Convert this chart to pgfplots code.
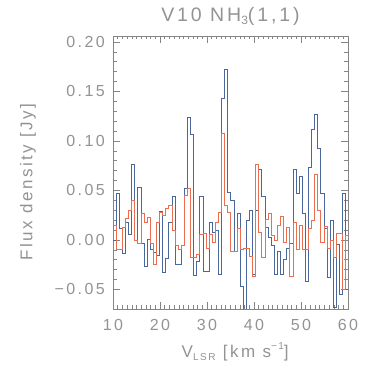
\documentclass[border=0pt]{standalone}
\usepackage{fontspec}
\setmainfont{Liberation Sans}[LetterSpace=15]
\usepackage{pgfplots}
\pgfplotsset{compat=1.18}
\definecolor{txtgray}{HTML}{939393}
\definecolor{axgray}{HTML}{858585}
\definecolor{specblue}{HTML}{4A679C}
\definecolor{specred}{HTML}{EB6E50}

\begin{document}
\begin{tikzpicture}
\useasboundingbox (0,0) rectangle (382pt,382pt);
\begin{axis}[
    at={(113pt,73pt)}, anchor=south west,
    scale only axis, width=235pt, height=273pt,
    xmin=10, xmax=60, ymin=-0.0697, ymax=0.206,
    axis line style={axgray, line width=0.8pt},
    tick style={axgray, line width=0.6pt},
    tick align=inside,
    major tick length=7pt, minor tick length=3.5pt,
    xtick={10,20,...,60}, xticklabels={10,20,30,40,50,60},
    minor x tick num=9,
    ytick={-0.05,0,0.05,0.10,0.15,0.20},
    yticklabels={−0.05,0.00,0.05,0.10,0.15,0.20},
    minor y tick num=4,
    ticklabel style={font=\fontsize{16}{16}\selectfont, text=txtgray},
    xticklabel style={inner sep=0pt, anchor=north, yshift=-10pt},
    yticklabel style={inner sep=0pt, anchor=east, xshift=-8pt},
    title={V10 NH\raisebox{-0.3ex}{\fontsize{12}{12}\selectfont 3}(1,1)},
    title style={at={(axis description cs:0.5,1.05)}, anchor=center,
                 font=\fontsize{19.5}{19.5}\selectfont, text=txtgray},
    xlabel={V\raisebox{-0.35ex}{\fontsize{10}{10}\selectfont LSR} [km s\raisebox{0.9ex}{\fontsize{10}{10}\selectfont −1}]},
    xlabel style={at={(axis description cs:0.52,-0.157)}, anchor=center,
                  font=\fontsize{17}{17}\selectfont, text=txtgray},
    ylabel={Flux density [Jy]},
    ylabel style={at={(axis description cs:-0.362,0.465)}, anchor=center,
                  font=\fontsize{17}{17}\selectfont, text=txtgray},
]
% channel left edges, 0.66 km/s wide
\addplot[const plot mark left, specblue, line width=0.8pt] coordinates {
(10.00,0.000) (10.66,0.047) (11.32,0.012) (11.98,-0.014) (12.64,0.018)
(13.30,0.006) (13.96,0.076) (14.62,0.000) (15.28,0.053) (15.94,-0.003)
(16.60,-0.027) (17.26,0.001) (17.92,-0.010) (18.58,-0.013) (19.24,-0.016)
(19.90,0.029) (20.56,-0.033) (21.22,-0.019) (21.88,0.018) (22.54,0.044)
(23.20,-0.025) (23.86,-0.025) (24.52,-0.005) (25.18,0.052) (25.84,0.124)
(26.50,0.107) (27.16,-0.036) (27.82,-0.022) (28.48,0.044) (29.14,-0.032)
(29.80,-0.032) (30.46,0.018) (31.12,0.008) (31.78,0.010) (32.44,-0.035)
(33.10,0.143) (33.76,0.172) (34.42,0.048) (35.08,0.040) (35.74,-0.012)
(36.40,0.027) (37.06,-0.047) (37.72,-0.090) (38.38,0.020) (39.04,0.030)
(39.70,-0.035) (40.36,0.030) (41.02,0.071) (41.68,0.044) (42.34,0.013)
(43.00,0.003) (43.66,-0.005) (44.32,-0.035) (44.98,-0.012) (45.64,-0.035)
(46.30,-0.020) (46.96,-0.008) (47.62,-0.003) (48.28,0.071) (48.94,0.047)
(49.60,0.064) (50.26,0.027) (50.92,-0.042) (51.58,0.073) (52.24,0.112)
(52.90,0.127) (53.56,0.092) (54.22,0.047) (54.88,0.012) (55.54,-0.038)
(56.20,0.020) (56.86,-0.068) (57.52,-0.004) (58.18,-0.055) (58.84,0.047)
(59.50,-0.050) (60.16,-0.050)
};
\addplot[const plot mark left, specred, line width=0.8pt] coordinates {
(10.00,0.015) (10.66,-0.010) (11.32,-0.010) (11.98,0.013) (12.64,0.022)
(13.30,0.030) (13.96,0.040) (14.62,0.000) (15.28,-0.003) (15.94,0.027)
(16.60,0.018) (17.26,0.023) (17.92,-0.003) (18.58,-0.025) (19.24,0.018)
(19.90,0.028) (20.56,0.025) (21.22,0.032) (21.88,0.035) (22.54,0.010)
(23.20,-0.005) (23.86,-0.010) (24.52,-0.005) (25.18,0.045) (25.84,0.052)
(26.50,-0.018) (27.16,-0.018) (27.82,-0.015) (28.48,0.006) (29.14,0.007)
(29.80,-0.008) (30.46,0.006) (31.12,-0.002) (31.78,0.018) (32.44,0.028)
(33.10,0.108) (33.76,0.035) (34.42,0.028) (35.08,-0.012) (35.74,-0.012)
(36.40,0.012) (37.06,-0.010) (37.72,-0.008) (38.38,-0.008) (39.04,-0.017)
(39.70,-0.037) (40.36,0.076) (41.02,0.008) (41.68,-0.018) (42.34,0.021)
(43.00,0.027) (43.66,0.005) (44.32,0.000) (44.98,0.015) (45.64,0.024)
(46.30,-0.002) (46.96,0.013) (47.62,-0.037) (48.28,0.018) (48.94,-0.010)
(49.60,0.015) (50.26,-0.010) (50.92,-0.010) (51.58,0.012) (52.24,0.020)
(52.90,0.066) (53.56,0.030) (54.22,-0.002) (54.88,0.014) (55.54,-0.008)
(56.20,0.000) (56.86,-0.018) (57.52,0.007) (58.18,0.007) (58.84,-0.050)
(59.50,0.005) (60.16,0.005)
};
\end{axis}
\end{tikzpicture}
\end{document}
